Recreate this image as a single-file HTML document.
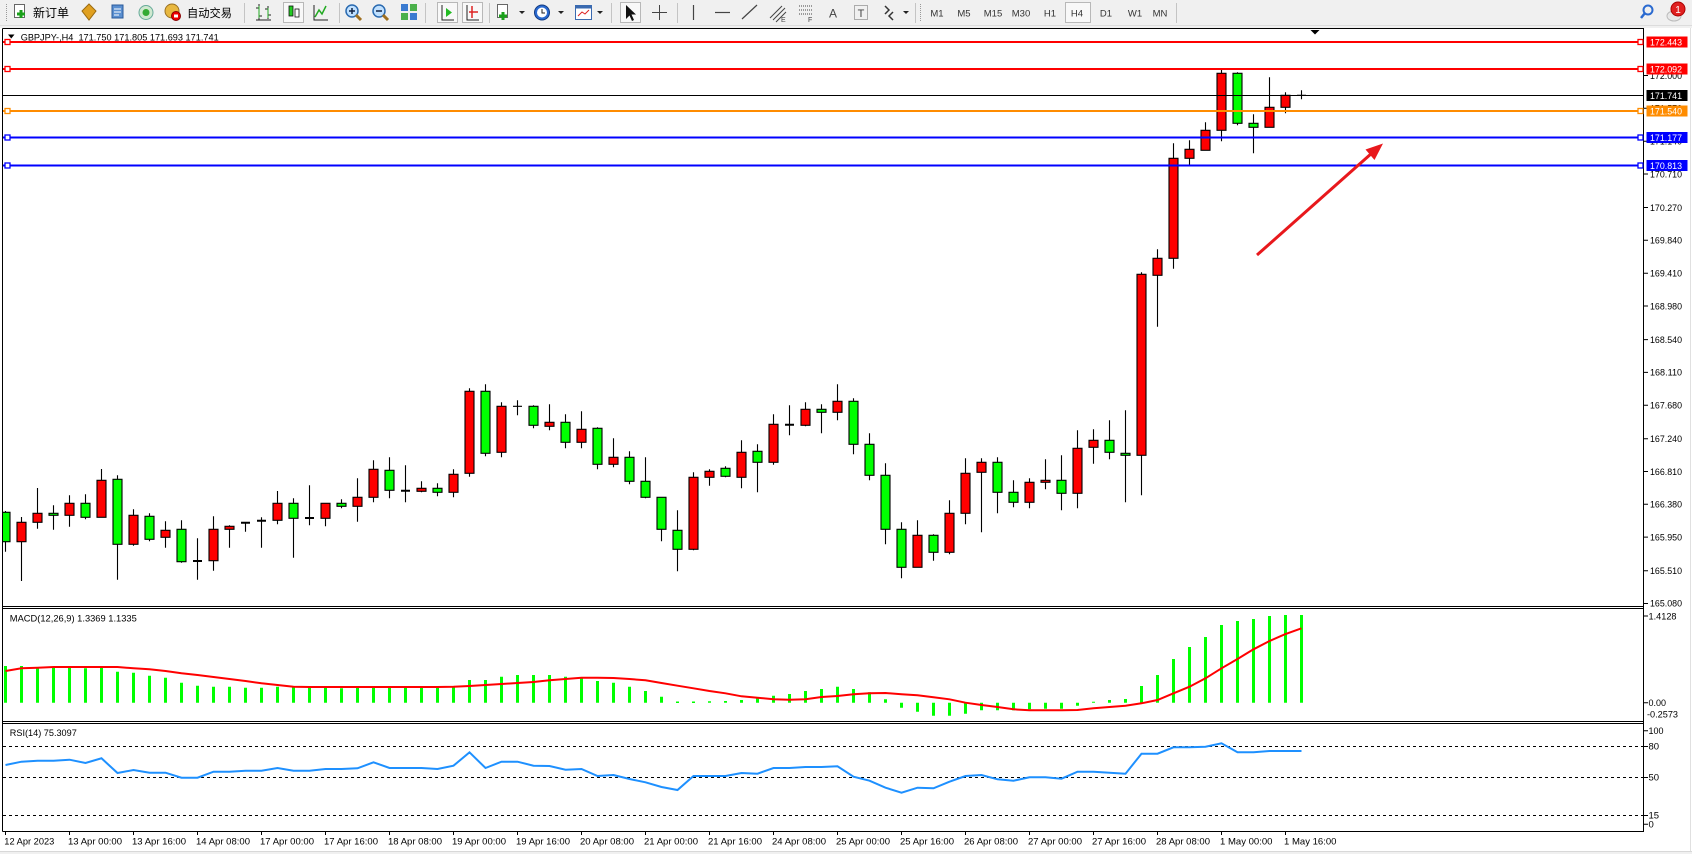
<!DOCTYPE html>
<html><head><meta charset="utf-8"><style>
html,body{margin:0;padding:0;background:#fff;width:1692px;height:854px;overflow:hidden}
svg{display:block}
text{font-family:"Liberation Sans","Noto Sans CJK SC",sans-serif}
</style></head><body>
<svg width="1692" height="854" viewBox="0 0 1692 854" xmlns="http://www.w3.org/2000/svg">
<defs>
<clipPath id="cm"><rect x="3" y="29" width="1640.5" height="577"/></clipPath>
<clipPath id="cd"><rect x="3" y="609" width="1640.5" height="112"/></clipPath>
<clipPath id="cr"><rect x="3" y="724" width="1640.5" height="107"/></clipPath>
</defs>
<rect x="0" y="0" width="1692" height="854" fill="#fff"/>
<!-- toolbar -->
<rect x="0" y="0" width="1692" height="28" fill="#f0f0f0"/>
<line x1="0" y1="25.5" x2="1692" y2="25.5" stroke="#dcdcdc"/>
<g stroke="#c4c4c4">
<line x1="244.5" y1="3" x2="244.5" y2="23"/><line x1="339.5" y1="3" x2="339.5" y2="23"/>
<line x1="425.5" y1="3" x2="425.5" y2="23"/><line x1="489.5" y1="3" x2="489.5" y2="23"/>
<line x1="611.5" y1="3" x2="611.5" y2="23"/><line x1="677.5" y1="3" x2="677.5" y2="23"/>
<line x1="915.5" y1="3" x2="915.5" y2="23"/><line x1="1176.5" y1="3" x2="1176.5" y2="23"/>
</g>
<g stroke="#999" stroke-dasharray="1 1"><line x1="6.5" y1="4" x2="6.5" y2="22"/><line x1="920.5" y1="4" x2="920.5" y2="22"/></g>
<!-- pressed buttons -->
<g fill="#f8f8f8" stroke="#b8b8b8">
<rect x="283.5" y="2.5" width="20" height="20"/><rect x="437.5" y="2.5" width="20" height="20"/>
<rect x="462.5" y="2.5" width="20" height="20"/><rect x="620.5" y="2.5" width="20" height="20"/>
<rect x="1065.5" y="2.5" width="25" height="20"/>
</g>
<!-- icons -->
<rect x="14.5" y="4.5" width="10" height="13" fill="#fff" stroke="#666"/>
<path d="M17 14h8M21 10v8" stroke="#1aa01a" stroke-width="3"/>
<text x="33" y="17" font-size="12" fill="#000">新订单</text>
<polygon points="89,4 96,11 89,20 82,11" fill="#e0a020" stroke="#9a6a10"/>
<rect x="112" y="5" width="11" height="13" fill="#5a8fd0" stroke="#2a5a9a"/><path d="M114 9h7M114 12h7M114 15h5" stroke="#fff"/>
<circle cx="146" cy="12.5" r="7" fill="#cfe8cf" stroke="#6a9" /><circle cx="146" cy="12.5" r="3.5" fill="#3a3" />
<circle cx="172" cy="11" r="7" fill="#e8b840" stroke="#9a7020"/><circle cx="176" cy="16" r="4.5" fill="#e00" stroke="#800"/><rect x="174" y="14.5" width="4" height="3" fill="#fff"/>
<text x="187" y="17" font-size="11.5" textLength="45" lengthAdjust="spacingAndGlyphs" fill="#000">自动交易</text>
<path d="M259 4v16M259 8h-3M259 16h3M268 6v13M268 9h-3M268 15h3M256 20h15" stroke="#222"/>
<path d="M259 6v12M268 8v10" stroke="#2a2" stroke-width="1"/>
<rect x="289" y="6" width="4" height="10" fill="#2c2" stroke="#111" stroke-width=".8"/><rect x="295" y="9" width="4" height="8" fill="#fff" stroke="#111" stroke-width=".8"/>
<path d="M314 5v15h14" stroke="#222" fill="none"/><path d="M315 17l4-7 3 4 4-8" stroke="#2a2" fill="none" stroke-width="1.5"/>
<circle cx="352" cy="11" r="6" fill="#bfe0ff" stroke="#2a6ab0" stroke-width="1.5"/><path d="M356 15l5 5" stroke="#a07020" stroke-width="3"/><path d="M349 11h6M352 8v6" stroke="#124" stroke-width="1.5"/>
<circle cx="379" cy="11" r="6" fill="#bfe0ff" stroke="#2a6ab0" stroke-width="1.5"/><path d="M383 15l5 5" stroke="#a07020" stroke-width="3"/><path d="M376 11h6" stroke="#124" stroke-width="1.5"/>
<rect x="401" y="4" width="7" height="7" fill="#3a7ad0"/><rect x="410" y="4" width="7" height="7" fill="#4ab04a"/><rect x="401" y="13" width="7" height="7" fill="#4ab04a"/><rect x="410" y="13" width="7" height="7" fill="#3a7ad0"/>
<path d="M442 5v15h12" stroke="#222" fill="none"/><polygon points="446,8 452,12.5 446,17" fill="#2b2"/>
<path d="M467 5v15h12" stroke="#222" fill="none"/><path d="M472 6v12M469 12h9" stroke="#d22" stroke-width="1.5"/>
<rect x="497.5" y="4.5" width="10" height="13" fill="#fff" stroke="#666"/><path d="M499 16h8M503 12v8" stroke="#1aa01a" stroke-width="3"/>
<polygon points="519,11 525,11 522,14" fill="#222"/>
<circle cx="542" cy="12.5" r="7.5" fill="#2a6ad0" stroke="#123a80"/><circle cx="542" cy="12.5" r="5" fill="#fff"/><path d="M542 9v4h3" stroke="#222" fill="none"/>
<polygon points="558,11 564,11 561,14" fill="#222"/>
<rect x="575.5" y="5.5" width="16" height="14" fill="#fff" stroke="#3a6ab0"/><rect x="575.5" y="5.5" width="16" height="3" fill="#3a6ab0"/><path d="M578 16l4-4 3 2 4-4" stroke="#d22" fill="none"/>
<polygon points="597,11 603,11 600,14" fill="#222"/>
<polygon points="626,5 626,19 629.5,15.5 632,21 634,20 631.5,14.5 636,14.5" fill="#111"/>
<path d="M659.5 5v15M652 12.5h15" stroke="#444"/>
<path d="M693.5 5v15" stroke="#444" stroke-width="1.2"/>
<path d="M715 12.5h15" stroke="#444" stroke-width="1.2"/>
<path d="M742 19l15-14" stroke="#444" stroke-width="1.2"/>
<path d="M770 18l12-12M773 20l12-12M776 22l10-10" stroke="#444"/><text x="781" y="22" font-size="7" fill="#444">E</text>
<path d="M799 6h14M799 10h14M799 14h14" stroke="#444" stroke-dasharray="1 1"/><text x="808" y="22" font-size="7" fill="#444">F</text>
<text x="833" y="17.5" font-size="12" text-anchor="middle" fill="#444">A</text>
<rect x="854.5" y="5.5" width="13" height="14" fill="none" stroke="#666" stroke-dasharray="1 1"/><text x="861" y="17" font-size="11" text-anchor="middle" fill="#444">T</text>
<path d="M885 6l4 4-4 4M893 12l-4 4 4 4" stroke="#333" stroke-width="1.5" fill="none"/>
<polygon points="903,11 909,11 906,14" fill="#222"/>
<g font-size="9.5" fill="#333" text-anchor="middle">
<text x="937" y="16.5">M1</text><text x="964" y="16.5">M5</text><text x="993" y="16.5">M15</text><text x="1021" y="16.5">M30</text><text x="1050" y="16.5">H1</text><text x="1077" y="16.5">H4</text><text x="1106" y="16.5">D1</text><text x="1135" y="16.5">W1</text><text x="1160" y="16.5">MN</text>
</g>
<circle cx="1648" cy="10" r="4.5" fill="none" stroke="#2a6ad0" stroke-width="2"/><path d="M1645 13l-4 5" stroke="#2a6ad0" stroke-width="2.5"/>
<ellipse cx="1674" cy="16" rx="7" ry="5" fill="#e8e8e8" stroke="#bbb"/>
<circle cx="1678" cy="9" r="7" fill="#e02020" stroke="#a00"/><text x="1678" y="13" font-size="10" fill="#fff" text-anchor="middle">1</text>

<!-- chart frame -->
<rect x="0" y="28" width="1692" height="826" fill="#fff"/>
<rect x="0" y="851" width="1692" height="3" fill="#f0f0f0"/>
<line x1="0" y1="851.5" x2="1692" y2="851.5" stroke="#d8d8d8"/>
<line x1="1690.5" y1="28" x2="1690.5" y2="851" stroke="#e0e0e0"/>
<g stroke="#000" stroke-width="1">
<line x1="2.5" y1="28.5" x2="1644" y2="28.5"/>
<line x1="2.5" y1="28.5" x2="2.5" y2="831.5"/>
<line x1="1643.5" y1="28.5" x2="1643.5" y2="831.5"/>
<line x1="2.5" y1="606.5" x2="1644" y2="606.5"/>
<line x1="2.5" y1="608.5" x2="1644" y2="608.5"/>
<line x1="2.5" y1="721.5" x2="1644" y2="721.5"/>
<line x1="2.5" y1="723.5" x2="1644" y2="723.5"/>
<line x1="2.5" y1="831.5" x2="1644" y2="831.5"/>
</g>

<!-- candles -->
<g clip-path="url(#cm)">
<path stroke="#000" stroke-width="1.1" fill="none" d="M5.5 511V551.7M21.5 517V581M37.5 488V528.7M53.5 505.3V529.7M69.5 495.3V526.7M85.5 494.3V519.3M101.5 469V517.3M117.5 475.3V579.7M133.5 509.3V545.7M149.5 513.3V541.3M165.5 521.3V547.7M181.5 520.3V562.7M197.5 538.3V579.7M213.5 516.3V570.7M229.5 525.3V547.7M245.5 522.3V531.7M261.5 517.3V547.7M277.5 491V524.3M293.5 498.3V557.7M309.5 485.3V525.3M325.5 503.3V526.3M341.5 499.3V508.3M357.5 478.3V521.7M373.5 460.3V502.3M389.5 457.3V498.3M405.5 465.3V502.3M421.5 481.3V492.3M437.5 483.3V496.3M453.5 469.3V497.3M469.5 388.3V476.7M485.5 384.3V456.3M501.5 402.3V457.3M517.5 400.3V415.3M533.5 405.3V428.3M549.5 404.3V430.3M565.5 414.3V448.3M581.5 411.3V448.3M597.5 427.3V469.3M613.5 438.3V467.3M629.5 451.3V484.3M645.5 457.3V498.3M661.5 497.3V541.3M677.5 510.3V571.3M693.5 472.3V550.3M709.5 469.3V485.7M725.5 466.3V477.3M741.5 440.3V488.3M757.5 444.3V492.3M773.5 414.3V464.7M789.5 405.3V435.3M805.5 402.3V426.3M821.5 404.3V433.3M837.5 384.3V420.3M853.5 398.3V454.3M869.5 433.3V480.3M885.5 463.3V544.3M901.5 522.3V578.3M917.5 520.3V567.3M933.5 534.3V560.7M949.5 500.3V554.3M965.5 458.3V524.3M981.5 458.3V532.3M997.5 457.3V513.3M1013.5 480.3V507.3M1029.5 478.3V508.3M1045.5 459.3V489.3M1061.5 455.3V510.3M1077.5 430.3V508.3M1093.5 429.3V463.7M1109.5 420.3V459.3M1125.5 410.3V502.3M1141.5 272.3V495.3M1157.5 249.3V326.7M1173.5 143.3V268.7M1189.5 140.3V165.3M1205.5 122.3V150.3M1221.5 70V141.3M1237.5 72.3V125.3M1253.5 114.3V153.3M1269.5 77.3V127.3M1285.5 92.3V113.3M1301.5 90.3V99.3"/>
<g fill="#ff0000" stroke="#000" stroke-width="1.1">
<rect x="17" y="522.3" width="9" height="19.4"/><rect x="33" y="513.3" width="9" height="9"/><rect x="65" y="503.3" width="9" height="12"/><rect x="97" y="480.3" width="9" height="37"/><rect x="129" y="515.3" width="9" height="29"/><rect x="161" y="530.3" width="9" height="7"/><rect x="209" y="529.3" width="9" height="31.4"/><rect x="225" y="526.3" width="9" height="3"/><rect x="273" y="503.3" width="9" height="17"/><rect x="321" y="503.3" width="9" height="15"/><rect x="353" y="497.3" width="9" height="9"/><rect x="369" y="469.3" width="9" height="28"/><rect x="417" y="488.3" width="9" height="3"/><rect x="449" y="474.3" width="9" height="18"/><rect x="465" y="391.3" width="9" height="82"/><rect x="497" y="406.3" width="9" height="46"/><rect x="545" y="422.3" width="9" height="4"/><rect x="577" y="429.3" width="9" height="13"/><rect x="609" y="457.3" width="9" height="7"/><rect x="689" y="477.3" width="9" height="72"/><rect x="705" y="471.3" width="9" height="6"/><rect x="737" y="452.3" width="9" height="25"/><rect x="769" y="424.3" width="9" height="38"/><rect x="801" y="409.3" width="9" height="16"/><rect x="833" y="401.3" width="9" height="11"/><rect x="913" y="535.3" width="9" height="32"/><rect x="945" y="513.3" width="9" height="39"/><rect x="961" y="473.3" width="9" height="40"/><rect x="977" y="462.3" width="9" height="10"/><rect x="1025" y="482.3" width="9" height="20"/><rect x="1041" y="480.3" width="9" height="2"/><rect x="1073" y="448.3" width="9" height="45"/><rect x="1089" y="440.3" width="9" height="7"/><rect x="1137" y="274.3" width="9" height="181"/><rect x="1153" y="258.3" width="9" height="17"/><rect x="1169" y="158.3" width="9" height="100"/><rect x="1185" y="149.3" width="9" height="9"/><rect x="1201" y="130.3" width="9" height="20"/><rect x="1217" y="73.3" width="9" height="57"/><rect x="1265" y="107.3" width="9" height="20"/><rect x="1281" y="95.3" width="9" height="12"/>
</g>
<g fill="#00ff00" stroke="#000" stroke-width="1.1">
<rect x="1" y="512.3" width="9" height="29.4"/><rect x="49" y="513.3" width="9" height="2"/><rect x="81" y="503.3" width="9" height="14"/><rect x="113" y="479.3" width="9" height="65"/><rect x="145" y="516.3" width="9" height="23"/><rect x="177" y="529.3" width="9" height="32.4"/><rect x="289" y="503.3" width="9" height="15"/><rect x="337" y="503.3" width="9" height="3"/><rect x="385" y="470.3" width="9" height="20"/><rect x="433" y="488.3" width="9" height="4"/><rect x="481" y="391.3" width="9" height="62"/><rect x="529" y="406.3" width="9" height="19"/><rect x="561" y="422.3" width="9" height="20"/><rect x="593" y="428.3" width="9" height="36"/><rect x="625" y="457.3" width="9" height="24"/><rect x="641" y="481.3" width="9" height="16"/><rect x="657" y="497.3" width="9" height="32"/><rect x="673" y="530.3" width="9" height="19"/><rect x="721" y="468.3" width="9" height="8"/><rect x="753" y="451.3" width="9" height="11"/><rect x="817" y="409.3" width="9" height="3"/><rect x="849" y="401.3" width="9" height="43"/><rect x="865" y="444.3" width="9" height="31"/><rect x="881" y="475.3" width="9" height="54"/><rect x="897" y="529.3" width="9" height="38"/><rect x="929" y="535.3" width="9" height="17"/><rect x="993" y="462.3" width="9" height="30"/><rect x="1009" y="492.3" width="9" height="10"/><rect x="1057" y="480.3" width="9" height="13"/><rect x="1105" y="440.3" width="9" height="12"/><rect x="1121" y="453.3" width="9" height="2"/><rect x="1233" y="73.3" width="9" height="50"/><rect x="1249" y="123.3" width="9" height="4"/>
</g>
<path stroke="#000" stroke-width="2" d="M193 561h9M241 522.8h9M257 520.8h9M305 518h9M401 490.8h9M785 424.8h9"/>
<path stroke="#000" stroke-width="1.2" d="M513 406.3h9M1297 95.3h9"/>
<!-- horizontal lines -->
<line x1="3" y1="95.5" x2="1644" y2="95.5" stroke="#000" stroke-width="1"/>
<g stroke-width="2">
<line x1="3" y1="42" x2="1644" y2="42" stroke="#ff0000"/>
<line x1="3" y1="69" x2="1644" y2="69" stroke="#ff0000"/>
<line x1="3" y1="111" x2="1644" y2="111" stroke="#ff8c00"/>
<line x1="3" y1="137.5" x2="1644" y2="137.5" stroke="#0000ff"/>
<line x1="3" y1="165.5" x2="1644" y2="165.5" stroke="#0000ff"/>
</g>
<g fill="#fff" stroke-width="1.3">
<rect x="5" y="39.5" width="5" height="5" stroke="#ff0000"/><rect x="1638" y="39.5" width="5" height="5" stroke="#ff0000"/>
<rect x="5" y="66.5" width="5" height="5" stroke="#ff0000"/><rect x="1638" y="66.5" width="5" height="5" stroke="#ff0000"/>
<rect x="5" y="108.5" width="5" height="5" stroke="#ff8c00"/><rect x="1638" y="108.5" width="5" height="5" stroke="#ff8c00"/>
<rect x="5" y="135" width="5" height="5" stroke="#0000ff"/><rect x="1638" y="135" width="5" height="5" stroke="#0000ff"/>
<rect x="5" y="163" width="5" height="5" stroke="#0000ff"/><rect x="1638" y="163" width="5" height="5" stroke="#0000ff"/>
</g>
<!-- red arrow -->
<line x1="1257" y1="255" x2="1372" y2="153" stroke="#e8181c" stroke-width="3"/>
<polygon points="1383,143.5 1374.5,160 1365.5,149.5" fill="#e8181c"/>
</g>
<!-- header -->
<polygon points="8,34.5 14.5,34.5 11.25,38.5" fill="#000"/>
<text x="20.7" y="40.5" font-size="9.3" textLength="198" lengthAdjust="spacingAndGlyphs" fill="#000">GBPJPY-,H4&#160;&#160;171.750 171.805 171.693 171.741</text>
<polygon points="1310.5,30 1319.5,30 1315,34.5" fill="#000"/>

<!-- price axis -->
<g stroke="#000"><path d="M1644 75.5h4M1644 108.3h4M1644 141.2h4M1644 174h4M1644 207.5h4M1644 240.3h4M1644 273.2h4M1644 306h4M1644 339.6h4M1644 372.4h4M1644 405.2h4M1644 438.7h4M1644 471.5h4M1644 504.3h4M1644 537.1h4M1644 570.7h4M1644 603.5h4"/></g>
<g font-size="9.5" fill="#000">
<text x="1650" y="79" textLength="32" lengthAdjust="spacingAndGlyphs">172.000</text>
<text x="1650" y="111.6" textLength="32" lengthAdjust="spacingAndGlyphs">171.570</text>
<text x="1650" y="144.5" textLength="32" lengthAdjust="spacingAndGlyphs">171.140</text>
<text x="1650" y="177.3" textLength="32" lengthAdjust="spacingAndGlyphs">170.710</text>
<text x="1650" y="210.8" textLength="32" lengthAdjust="spacingAndGlyphs">170.270</text>
<text x="1650" y="243.6" textLength="32" lengthAdjust="spacingAndGlyphs">169.840</text>
<text x="1650" y="276.5" textLength="32" lengthAdjust="spacingAndGlyphs">169.410</text>
<text x="1650" y="309.3" textLength="32" lengthAdjust="spacingAndGlyphs">168.980</text>
<text x="1650" y="342.9" textLength="32" lengthAdjust="spacingAndGlyphs">168.540</text>
<text x="1650" y="375.7" textLength="32" lengthAdjust="spacingAndGlyphs">168.110</text>
<text x="1650" y="408.5" textLength="32" lengthAdjust="spacingAndGlyphs">167.680</text>
<text x="1650" y="442" textLength="32" lengthAdjust="spacingAndGlyphs">167.240</text>
<text x="1650" y="474.8" textLength="32" lengthAdjust="spacingAndGlyphs">166.810</text>
<text x="1650" y="507.6" textLength="32" lengthAdjust="spacingAndGlyphs">166.380</text>
<text x="1650" y="540.4" textLength="32" lengthAdjust="spacingAndGlyphs">165.950</text>
<text x="1650" y="574" textLength="32" lengthAdjust="spacingAndGlyphs">165.510</text>
<text x="1650" y="606.3" textLength="32" lengthAdjust="spacingAndGlyphs">165.080</text>
</g>
<rect x="1646.5" y="36.5" width="41" height="11" fill="#ff0000"/>
<rect x="1646.5" y="63.5" width="41" height="11" fill="#ff0000"/>
<rect x="1646.5" y="90" width="41" height="11" fill="#000"/>
<rect x="1646.5" y="105.5" width="41" height="11" fill="#ff8c00"/>
<rect x="1646.5" y="132" width="41" height="11" fill="#0000ff"/>
<rect x="1646.5" y="160" width="41" height="11" fill="#0000ff"/>
<g font-size="9.5" fill="#fff">
<text x="1650" y="45.5" textLength="32" lengthAdjust="spacingAndGlyphs">172.443</text>
<text x="1650" y="72.5" textLength="32" lengthAdjust="spacingAndGlyphs">172.092</text>
<text x="1650" y="99" textLength="32" lengthAdjust="spacingAndGlyphs">171.741</text>
<text x="1650" y="114.5" textLength="32" lengthAdjust="spacingAndGlyphs">171.540</text>
<text x="1650" y="141" textLength="32" lengthAdjust="spacingAndGlyphs">171.177</text>
<text x="1650" y="169" textLength="32" lengthAdjust="spacingAndGlyphs">170.813</text>
</g>

<!-- MACD -->
<g clip-path="url(#cd)">
<path stroke="#00ff00" stroke-width="3" fill="none" d="M5.5 666V702.7M21.5 666V702.7M37.5 667.7V702.7M53.5 667.7V702.7M69.5 667.7V702.7M85.5 668.3V702.7M101.5 667.7V702.7M117.5 671.7V702.7M133.5 672.7V702.7M149.5 675.7V702.7M165.5 677.7V702.7M181.5 682.7V702.7M197.5 685.7V702.7M213.5 686.7V702.7M229.5 686.7V702.7M245.5 687.7V702.7M261.5 687.7V702.7M277.5 686.7V702.7M293.5 686.7V702.7M309.5 687.7V702.7M325.5 687.7V702.7M341.5 688.3V702.7M357.5 687.7V702.7M373.5 686V702.7M389.5 686.7V702.7M405.5 686.7V702.7M421.5 686.7V702.7M437.5 687.7V702.7M453.5 686.7V702.7M469.5 680V702.7M485.5 680V702.7M501.5 676.7V702.7M517.5 675V702.7M533.5 675V702.7M549.5 675V702.7M565.5 676.7V702.7M581.5 678.3V702.7M597.5 681V702.7M613.5 682.7V702.7M629.5 686.7V702.7M645.5 691V702.7M661.5 696.7V702.7M677.5 701.5V703M693.5 701.5V703M709.5 701.3V702.7M725.5 701V702.7M741.5 700V702.7M757.5 698.3V702.7M773.5 695.7V702.7M789.5 694V702.7M805.5 691V702.7M821.5 689V702.7M837.5 686.7V702.7M853.5 689V702.7M869.5 692.3V702.7M885.5 699.3V702.7M901.5 702.7V707.7M917.5 702.7V711.7M933.5 702.7V715.7M949.5 702.7V715.7M965.5 702.7V713.7M981.5 702.7V710.3M997.5 702.7V710.3M1013.5 702.7V710.3M1029.5 702.7V709.3M1045.5 702.7V708.7M1061.5 702.7V708.7M1077.5 702.7V705.7M1093.5 701.7V702.7M1109.5 700V702.7M1125.5 699V702.7M1141.5 686V702.7M1157.5 675V702.7M1173.5 659V702.7M1189.5 647V702.7M1205.5 637V702.7M1221.5 625V702.7M1237.5 621V702.7M1253.5 619V702.7M1269.5 616V702.7M1285.5 615V702.7M1301.5 615V702.7"/>
<polyline fill="none" stroke="#ff0000" stroke-width="2" points="5.5,671 21.5,668.3 37.5,667.7 53.5,667 69.5,667 85.5,667 101.5,667 117.5,667 133.5,668.3 149.5,669.3 165.5,671 181.5,673.3 197.5,675 213.5,677 229.5,679 245.5,681 261.5,683.3 277.5,685 293.5,686.7 309.5,687 325.5,687 341.5,687 357.5,687 373.5,687 389.5,687 405.5,687 421.5,687 437.5,687 453.5,686.7 469.5,686 485.5,685 501.5,684 517.5,683 533.5,682 549.5,680.3 565.5,679 581.5,677.7 597.5,677.7 613.5,678 629.5,679 645.5,680.3 661.5,683 677.5,685.7 693.5,688.3 709.5,691 725.5,693.3 741.5,696.3 757.5,697.7 773.5,699.3 789.5,699.7 805.5,699.3 821.5,697 837.5,696 853.5,694.3 869.5,693.3 885.5,693 901.5,694.3 917.5,695.3 933.5,697.3 949.5,699.3 965.5,702.7 981.5,705 997.5,707 1013.5,709.3 1029.5,710.3 1045.5,710.3 1061.5,710.3 1077.5,710 1093.5,708.3 1109.5,707 1125.5,705.7 1141.5,703.3 1157.5,700 1173.5,693.3 1189.5,686.7 1205.5,678.3 1221.5,668.3 1237.5,659 1253.5,649.3 1269.5,641 1285.5,634 1301.5,628.3"/>
</g>
<text x="9.8" y="621.6" font-size="9.3" textLength="127" lengthAdjust="spacingAndGlyphs" fill="#000">MACD(12,26,9) 1.3369 1.1335</text>
<g stroke="#000"><path d="M1644 616h4M1644 702.7h4"/></g>
<g font-size="9.5" fill="#000">
<text x="1648.5" y="619.3" textLength="28" lengthAdjust="spacingAndGlyphs">1.4128</text>
<text x="1648.5" y="706" textLength="17.5" lengthAdjust="spacingAndGlyphs">0.00</text>
<text x="1647" y="717.6" textLength="31" lengthAdjust="spacingAndGlyphs">-0.2573</text>
</g>

<!-- RSI -->
<g stroke="#000" stroke-dasharray="3 3" stroke-width="1">
<line x1="3" y1="746.5" x2="1643" y2="746.5"/>
<line x1="3" y1="777.5" x2="1643" y2="777.5"/>
<line x1="3" y1="815.5" x2="1643" y2="815.5"/>
</g>
<g clip-path="url(#cr)">
<polyline fill="none" stroke="#1e90ff" stroke-width="2" points="5.5,765 21.5,761.7 37.5,760.7 53.5,760.7 69.5,759.7 85.5,763 101.5,758.3 117.5,773 133.5,770 149.5,772.7 165.5,772.7 181.5,777.7 197.5,777.7 213.5,771.7 229.5,771.7 245.5,770.7 261.5,770.7 277.5,768 293.5,770.7 309.5,770.7 325.5,769 341.5,769 357.5,768.3 373.5,762.3 389.5,768 405.5,768 421.5,768 437.5,769 453.5,765.7 469.5,752.3 485.5,768 501.5,761.7 517.5,761.7 533.5,765.7 549.5,766 565.5,769.7 581.5,769 597.5,776 613.5,775 629.5,779 645.5,782.3 661.5,787 677.5,790 693.5,776 709.5,776 725.5,776 741.5,773 757.5,773.7 773.5,768 789.5,768 805.5,767 821.5,767 837.5,766.3 853.5,776.7 869.5,780.7 885.5,787.7 901.5,792.7 917.5,787.7 933.5,788.3 949.5,781.7 965.5,776 981.5,775 997.5,779.3 1013.5,780.7 1029.5,777.3 1045.5,777.3 1061.5,778.7 1077.5,771.7 1093.5,771.7 1109.5,772.7 1125.5,773.7 1141.5,753.7 1157.5,753.7 1173.5,747.3 1189.5,747.3 1205.5,746.7 1221.5,743.3 1237.5,752.3 1253.5,752.3 1269.5,751 1285.5,751 1301.5,751"/>
</g>
<text x="9.8" y="736" font-size="9.3" textLength="67" lengthAdjust="spacingAndGlyphs" fill="#000">RSI(14) 75.3097</text>
<g stroke="#000"><path d="M1644 730.7h4M1644 746.5h4M1644 777.5h4M1644 815.5h4M1644 824.3h4"/></g>
<g font-size="9.5" fill="#000">
<text x="1648.5" y="734" textLength="15" lengthAdjust="spacingAndGlyphs">100</text>
<text x="1648.5" y="749.6">80</text>
<text x="1648.5" y="780.6">50</text>
<text x="1648.5" y="818.6">15</text>
<text x="1648.5" y="827.6">0</text>
</g>

<!-- time axis -->
<g stroke="#000"><path d="M5.5 831v4M69.5 831v4M133.5 831v4M197.5 831v4M261.5 831v4M325.5 831v4M389.5 831v4M453.5 831v4M517.5 831v4M581.5 831v4M645.5 831v4M709.5 831v4M773.5 831v4M837.5 831v4M901.5 831v4M965.5 831v4M1029.5 831v4M1093.5 831v4M1157.5 831v4M1221.5 831v4M1285.5 831v4"/></g>
<g font-size="9.5" fill="#000">
<text x="4.3" y="844.3" textLength="50" lengthAdjust="spacingAndGlyphs">12 Apr 2023</text>
<text x="68" y="844.3" textLength="54" lengthAdjust="spacingAndGlyphs">13 Apr 00:00</text>
<text x="132" y="844.3" textLength="54" lengthAdjust="spacingAndGlyphs">13 Apr 16:00</text>
<text x="196" y="844.3" textLength="54" lengthAdjust="spacingAndGlyphs">14 Apr 08:00</text>
<text x="260" y="844.3" textLength="54" lengthAdjust="spacingAndGlyphs">17 Apr 00:00</text>
<text x="324" y="844.3" textLength="54" lengthAdjust="spacingAndGlyphs">17 Apr 16:00</text>
<text x="388" y="844.3" textLength="54" lengthAdjust="spacingAndGlyphs">18 Apr 08:00</text>
<text x="452" y="844.3" textLength="54" lengthAdjust="spacingAndGlyphs">19 Apr 00:00</text>
<text x="516" y="844.3" textLength="54" lengthAdjust="spacingAndGlyphs">19 Apr 16:00</text>
<text x="580" y="844.3" textLength="54" lengthAdjust="spacingAndGlyphs">20 Apr 08:00</text>
<text x="644" y="844.3" textLength="54" lengthAdjust="spacingAndGlyphs">21 Apr 00:00</text>
<text x="708" y="844.3" textLength="54" lengthAdjust="spacingAndGlyphs">21 Apr 16:00</text>
<text x="772" y="844.3" textLength="54" lengthAdjust="spacingAndGlyphs">24 Apr 08:00</text>
<text x="836" y="844.3" textLength="54" lengthAdjust="spacingAndGlyphs">25 Apr 00:00</text>
<text x="900" y="844.3" textLength="54" lengthAdjust="spacingAndGlyphs">25 Apr 16:00</text>
<text x="964" y="844.3" textLength="54" lengthAdjust="spacingAndGlyphs">26 Apr 08:00</text>
<text x="1028" y="844.3" textLength="54" lengthAdjust="spacingAndGlyphs">27 Apr 00:00</text>
<text x="1092" y="844.3" textLength="54" lengthAdjust="spacingAndGlyphs">27 Apr 16:00</text>
<text x="1156" y="844.3" textLength="54" lengthAdjust="spacingAndGlyphs">28 Apr 08:00</text>
<text x="1220" y="844.3" textLength="52.5" lengthAdjust="spacingAndGlyphs">1 May 00:00</text>
<text x="1284" y="844.3" textLength="52.5" lengthAdjust="spacingAndGlyphs">1 May 16:00</text>
</g>
</svg>
</body></html>
